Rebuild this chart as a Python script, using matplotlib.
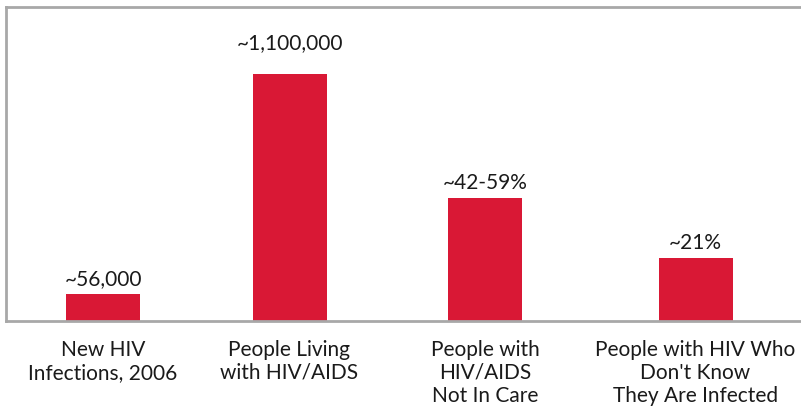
import matplotlib.pyplot as plt

categories = ["New HIV\nInfections, 2006",
              "People Living\nwith HIV/AIDS",
              "People with\nHIV/AIDS\nNot In Care",
              "People with HIV Who\nDon't Know\nThey Are Infected"]
heights = [8.6, 78.7, 39.2, 20.1]   # bar heights (% of axis)
value_labels = ["~56,000", "~1,100,000", "~42-59%", "~21%"]

# layout (pixel-like x coordinates across the figure)
xpos = [103, 289.5, 485, 695.5]
label_offsets = [4, 16, 4, 4]

plt.rcParams['font.family'] = ['Lato', 'DejaVu Sans']

fig = plt.figure(figsize=(8.01, 4.10), dpi=100)
ax = fig.add_axes([6/801, 88/410, 1.02, 314/410])
ax.bar(xpos, heights, width=74, color='#D91835')
ax.set_xlim(6, 6 + 1.02*801)
ax.set_ylim(0, 100)

for x, h, lab, off in zip(xpos, heights, value_labels, label_offsets):
    ax.annotate(lab, (x, h), xytext=(0, off), textcoords='offset points',
                ha='center', va='bottom', fontsize=15, color='#1a1a1a')

ax.set_xticks(xpos)
ax.set_xticklabels(categories, fontsize=15, color='#1a1a1a', linespacing=1.18)
ax.tick_params(axis='x', length=0, pad=13)
ax.set_yticks([])
for s in ['left', 'top', 'bottom']:
    ax.spines[s].set_color('#a8a8a8')
    ax.spines[s].set_linewidth(2)
ax.spines['right'].set_visible(False)

fig.savefig('out.png', dpi=100)
